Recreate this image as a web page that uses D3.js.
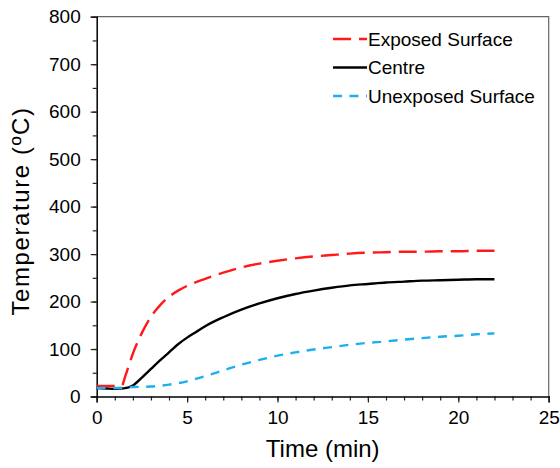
<!DOCTYPE html>
<html>
<head>
<meta charset="utf-8">
<script src="https://cdn.jsdelivr.net/npm/d3@7"></script>
<style>
  body { margin: 0; background: #fff; }
  svg { font-family: "Liberation Sans", Arial, sans-serif; }
</style>
</head>
<body>
<svg id="chart" width="560" height="468"></svg>
<script>
// values
const exposedTime = [0, 0.5, 1, 1.38, 1.6, 1.8, 2, 2.5, 3, 3.5, 4, 4.5, 5, 5.5, 6, 7, 8, 9, 10, 11, 12, 13, 14, 15, 16, 17, 18, 19, 20, 21, 22];
const exposedTemp = [22, 22, 22, 23, 45, 68, 90, 134, 168, 192, 210, 223, 233, 241, 248, 261, 272, 280, 286, 291, 295, 298, 301, 303, 304, 305, 305, 306, 306, 307, 307];

const centreTime = [0, 0.5, 1, 1.5, 2, 2.5, 3, 3.5, 4, 4.5, 5, 5.5, 6, 7, 8, 9, 10, 11, 12, 13, 14, 15, 16, 17, 18, 19, 20, 21, 22];
const centreTemp = [18, 17, 16, 17, 23, 40, 58, 76, 93, 110, 124, 136, 148, 167, 183, 196, 207, 216, 223, 229, 234, 237, 240, 242, 244, 245, 246, 247, 247];

const unexposedTime = [0, 1, 2, 3, 4, 4.5, 5, 6, 7, 8, 9, 10, 11, 12, 13, 14, 15, 16, 17, 18, 19, 20, 21, 22];
const unexposedTemp = [18, 18, 20, 21, 25, 28, 32, 43, 55, 67, 77, 86, 93, 99, 104, 109, 113, 116, 120, 123, 126, 128, 131, 133];

const xTicks = [0, 5, 10, 15, 20, 25];
const yTicks = [0, 100, 200, 300, 400, 500, 600, 700, 800];

const series = [
    { name: "Exposed Surface", t: exposedTime, v: exposedTemp, color: "#ff1a1a", dash: "18,8" },
    { name: "Centre", t: centreTime, v: centreTemp, color: "#000000", dash: null },
    { name: "Unexposed Surface", t: unexposedTime, v: unexposedTemp, color: "#1cb0ec", dash: "9,7.5" }
];

const margin = { top: 16.7, right: 11.3, bottom: 71.5, left: 96.7 };
const width = 560 - margin.left - margin.right;
const height = 468 - margin.top - margin.bottom;

const svg = d3.select('#chart');
const g = svg.append('g').attr('transform', `translate(${margin.left},${margin.top})`);

const x = d3.scaleLinear().domain([0, 25]).range([0, width]);
const y = d3.scaleLinear().domain([0, 800]).range([height, 0]);

// frame (top + right)
g.append('path')
    .attr('d', `M0,0H${width}V${height}`)
    .attr('fill', 'none')
    .attr('stroke', '#666')
    .attr('stroke-width', 1.2);

// minor ticks
g.append('g')
    .attr('transform', `translate(0,${height})`)
    .call(d3.axisBottom(x).tickValues(d3.range(0, 26, 1)).tickSize(4).tickFormat(''))
    .call(a => a.select('.domain').remove());
g.append('g')
    .call(d3.axisLeft(y).tickValues(d3.range(0, 801, 50)).tickSize(4).tickFormat(''))
    .call(a => a.select('.domain').remove());

// major axes
const xAxis = g.append('g')
    .attr('transform', `translate(0,${height})`)
    .call(d3.axisBottom(x).tickValues(xTicks).tickSize(6).tickPadding(8));
const yAxis = g.append('g')
    .call(d3.axisLeft(y).tickValues(yTicks).tickSize(6).tickPadding(10));

[xAxis, yAxis].forEach(a => {
    a.selectAll('text').attr('font-size', 19).attr('fill', '#000').attr('font-family', null);
    a.select('.domain').attr('stroke-width', 1.5);
});
g.selectAll('.tick line').attr('stroke', '#222').attr('stroke-width', 1.2);

// curves
const line = d3.line()
    .x(d => x(d[0]))
    .y(d => y(d[1]))
    .curve(d3.curveMonotoneX);

g.selectAll('.serie')
    .data(series)
    .enter()
    .append('path')
    .attr('class', 'serie')
    .attr('d', s => line(s.t.map((t, i) => [t, s.v[i]])))
    .attr('fill', 'none')
    .attr('stroke', s => s.color)
    .attr('stroke-width', 2.4)
    .attr('stroke-dasharray', s => s.dash);

// legend
const legend = svg.append('g').attr('transform', 'translate(333,39)');
const items = legend.selectAll('.item')
    .data(series)
    .enter()
    .append('g')
    .attr('class', 'item')
    .attr('transform', (d, i) => `translate(0,${i * 28.5})`);
items.append('line')
    .attr('x1', 0).attr('x2', 34)
    .attr('stroke', d => d.color)
    .attr('stroke-width', 2.4)
    .attr('stroke-dasharray', d => d.dash);
items.append('text')
    .attr('x', 35)
    .attr('y', 6.5)
    .attr('font-size', 19)
    .attr('fill', '#000')
    .text(d => d.name);

// axis titles
svg.append('text')
    .attr('x', margin.left + width / 2)
    .attr('y', 456.5)
    .attr('text-anchor', 'middle')
    .attr('font-size', 24)
    .attr('fill', '#000')
    .text('Time (min)');

svg.append('text')
    .attr('transform', `translate(28.5,211) rotate(-90)`)
    .attr('text-anchor', 'middle')
    .attr('font-size', 24)
    .attr('letter-spacing', 1.6)
    .attr('fill', '#000')
    .text('Temperature (ºC)');
</script>
</body>
</html>
